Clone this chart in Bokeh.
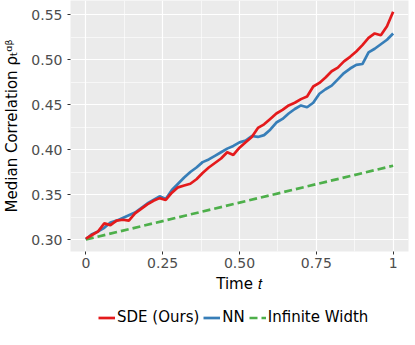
from bokeh.plotting import figure
from bokeh.layouts import column
from bokeh.models import FixedTicker, Legend, LegendItem, NumeralTickFormatter
from bokeh.embed import file_html
from bokeh.resources import INLINE

# time grid
t = [0.00, 0.02, 0.04, 0.06, 0.08, 0.10, 0.12, 0.14, 0.16, 0.18,
     0.20, 0.22, 0.24, 0.26, 0.28, 0.30, 0.32, 0.34, 0.36, 0.38,
     0.40, 0.42, 0.44, 0.46, 0.48, 0.50, 0.52, 0.54, 0.56, 0.58,
     0.60, 0.62, 0.64, 0.66, 0.68, 0.70, 0.72, 0.74, 0.76, 0.78,
     0.80, 0.82, 0.84, 0.86, 0.88, 0.90, 0.92, 0.94, 0.96, 0.98, 1.00]

sde = [0.301, 0.305, 0.309, 0.318, 0.316, 0.321, 0.322, 0.321, 0.329, 0.334,
       0.339, 0.343, 0.346, 0.344, 0.352, 0.358, 0.360, 0.362, 0.367, 0.374,
       0.380, 0.385, 0.390, 0.397, 0.394, 0.402, 0.408, 0.414, 0.424, 0.428,
       0.434, 0.440, 0.444, 0.449, 0.452, 0.456, 0.459, 0.470, 0.474, 0.480,
       0.487, 0.491, 0.498, 0.503, 0.509, 0.516, 0.524, 0.529, 0.527, 0.537, 0.553]

nn = [0.300, 0.306, 0.309, 0.313, 0.319, 0.321, 0.324, 0.327, 0.330, 0.335,
      0.340, 0.344, 0.348, 0.345, 0.355, 0.362, 0.369, 0.375, 0.380, 0.386,
      0.389, 0.393, 0.397, 0.401, 0.404, 0.408, 0.410, 0.415, 0.414, 0.416,
      0.422, 0.430, 0.434, 0.440, 0.445, 0.449, 0.447, 0.452, 0.462, 0.467,
      0.471, 0.478, 0.485, 0.490, 0.494, 0.495, 0.508, 0.512, 0.517, 0.522, 0.529]

inf_t = [0.0, 1.0]
inf_w = [0.300, 0.382]

series_names = ["SDE (Ours)", "NN", "Infinite Width"]
x_ticks = [0, 0.25, 0.5, 0.75, 1]
x_minor = [0.125, 0.375, 0.625, 0.875]
x_labels = ["0", "0.25", "0.50", "0.75", "1"]
y_ticks = [0.30, 0.35, 0.40, 0.45, 0.50, 0.55]
y_minor = [0.325, 0.375, 0.425, 0.475, 0.525]

FONT = "DejaVu Sans"
RED, BLUE, GREEN = "#E41A1C", "#377EB8", "#4DAF4A"

p = figure(frame_width=338, frame_height=251, output_backend="svg", toolbar_location=None,
           x_range=(-0.05, 1.05), y_range=(0.2867, 0.5656),
           min_border_left=62, min_border_top=0, min_border_right=2, min_border_bottom=0)
p.background_fill_color = "#EBEBEB"
p.border_fill_color = "white"
p.outline_line_color = None

xt = FixedTicker(ticks=x_ticks, minor_ticks=x_minor)
yt = FixedTicker(ticks=y_ticks, minor_ticks=y_minor)
p.xaxis.ticker = xt
p.yaxis.ticker = yt
p.xgrid.ticker = xt
p.ygrid.ticker = yt
for g in (p.xgrid, p.ygrid):
    g.grid_line_color = "white"
    g.grid_line_width = 1.2
    g.minor_grid_line_color = "white"
    g.minor_grid_line_width = 0.6

p.xaxis.major_label_overrides = {x: l for x, l in zip(x_ticks, x_labels)}
p.yaxis.formatter = NumeralTickFormatter(format="0.00")

for ax in (p.xaxis, p.yaxis):
    ax.axis_line_color = None
    ax.minor_tick_line_color = None
    ax.major_tick_line_color = "#333333"
    ax.major_tick_out = 3
    ax.major_tick_in = 0
    ax.major_label_text_color = "#4D4D4D"
    ax.major_label_text_font = FONT
    ax.major_label_text_font_size = "14px"
    ax.axis_label_text_font = FONT
    ax.axis_label_text_font_size = "15px"
    ax.axis_label_text_font_style = "normal"
    ax.axis_label_text_color = "black"

p.xaxis.major_label_standoff = 2
p.yaxis.major_label_standoff = 4
p.xaxis.axis_label = "Time 𝑡"
p.yaxis.axis_label = "Median Correlation ρₜᵅᵝ"
p.xaxis.axis_label_standoff = 4
p.yaxis.axis_label_standoff = 7

p.line(t, nn, line_color=BLUE, line_width=2.7)
p.line(inf_t, inf_w, line_color=GREEN, line_width=2.7, line_dash="8 4")
p.line(t, sde, line_color=RED, line_width=2.7)

# separate strip holding the legend (below the plot); its lines lie outside its view
pl = figure(width=402, height=36, output_backend="svg", toolbar_location=None,
            x_range=(5, 6), y_range=(5, 6), min_border=0,
            x_axis_location=None, y_axis_location=None)
pl.grid.visible = False
pl.outline_line_color = None
pl.background_fill_color = "white"
pl.border_fill_color = "white"
k_sde = pl.line(t, sde, line_color=RED, line_width=2.7)
k_nn = pl.line(t, nn, line_color=BLUE, line_width=2.7)
k_inf = pl.line(inf_t, inf_w, line_color=GREEN, line_width=2.7, line_dash="8 4")

legend = Legend(items=[LegendItem(label=series_names[0], renderers=[k_sde]),
                       LegendItem(label=series_names[1], renderers=[k_nn]),
                       LegendItem(label=series_names[2], renderers=[k_inf])],
                orientation="horizontal", location=(28, 5),
                border_line_color=None, background_fill_alpha=0,
                label_text_font=FONT, label_text_font_size="15px", label_text_color="black",
                glyph_width=17, glyph_height=17, label_standoff=2, spacing=4,
                padding=2, margin=0)
pl.add_layout(legend, "center")

open("out.html", "w").write(file_html(column(p, pl), INLINE))
